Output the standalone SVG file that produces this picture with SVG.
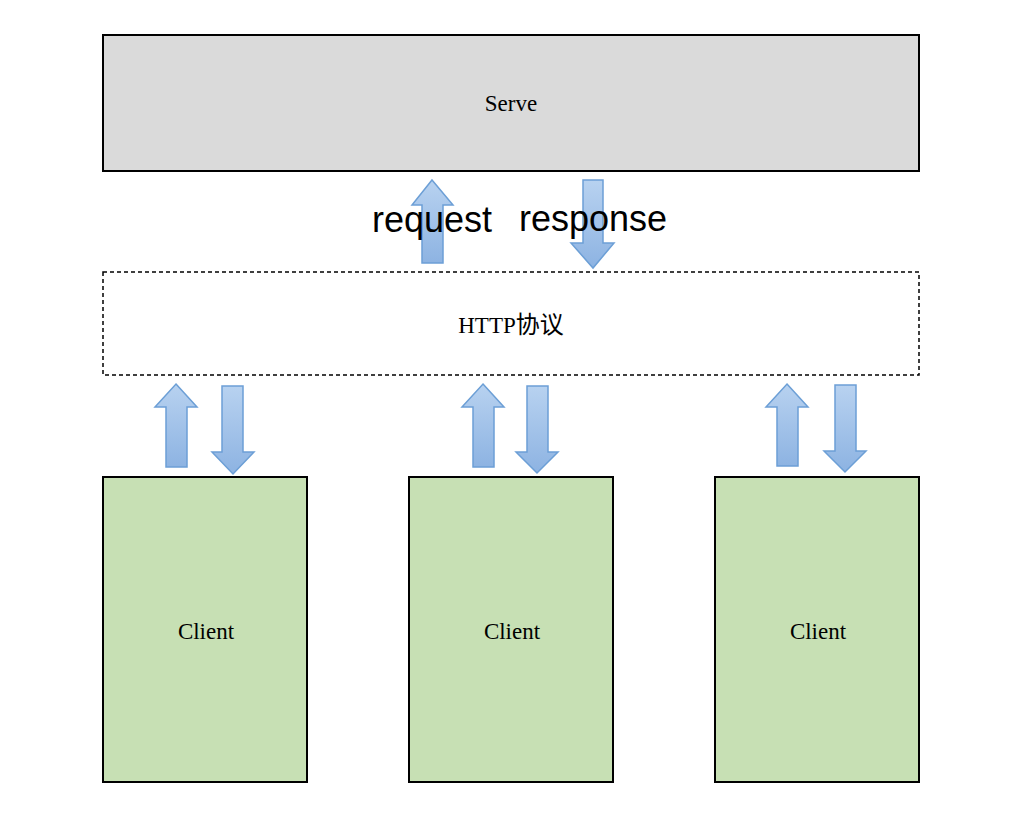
<svg xmlns="http://www.w3.org/2000/svg" width="1023" height="818" viewBox="0 0 1023 818">
<defs>
<linearGradient id="ag" x1="0" y1="0" x2="0" y2="1">
<stop offset="0" stop-color="#b8d2f0"/>
<stop offset="1" stop-color="#8db3e2"/>
</linearGradient>
<style>
.box{stroke:#000;stroke-width:2}
.arr{fill:url(#ag);stroke:#6c9fd6;stroke-width:1.5;stroke-linejoin:miter}
.lbl{font-family:"Liberation Serif","Noto Sans CJK SC",serif;font-size:23px;fill:#000;text-anchor:middle}
.big{font-family:"Liberation Sans",Arial,sans-serif;font-size:36px;fill:#000}
</style>
</defs>
<rect width="1023" height="818" fill="#fff"/>
<g id="server">
<rect class="box" x="103" y="35" width="816" height="136" fill="#dadada"/>
<text class="lbl" x="511" y="111">Serve</text>
</g>
<g id="http">
<rect x="103" y="272" width="816" height="103" fill="#fff" stroke="#000" stroke-width="1.5" stroke-dasharray="4 3"/>
<text class="lbl" x="511" y="333">HTTP<tspan style="font-size:24px">协议</tspan></text>
</g>
<g id="client1">
<rect class="box" x="103" y="477" width="204" height="305" fill="#c7e0b4"/>
<text class="lbl" x="206" y="639">Client</text>
</g>
<g id="client2">
<rect class="box" x="409" y="477" width="204" height="305" fill="#c7e0b4"/>
<text class="lbl" x="512" y="639">Client</text>
</g>
<g id="client3">
<rect class="box" x="715" y="477" width="204" height="305" fill="#c7e0b4"/>
<text class="lbl" x="818" y="639">Client</text>
</g>
<g id="connectors">
<path class="arr" d="M432,180 L453,205 L443,205 L443,263 L422,263 L422,205 L412,205 Z"/>
<path class="arr" d="M583,180 L603,180 L603,243 L614,243 L593,268 L571,243 L583,243 Z"/>
<path class="arr" d="M176,384 L197,407 L187,407 L187,467 L166,467 L166,407 L155,407 Z"/>
<path class="arr" d="M222,386 L243,386 L243,452 L254,452 L233,474 L212,452 L222,452 Z"/>
<path class="arr" d="M483,384 L504,407 L494,407 L494,467 L473,467 L473,407 L462,407 Z"/>
<path class="arr" d="M527,386 L548,386 L548,452 L558,452 L537,473 L516,452 L527,452 Z"/>
<path class="arr" d="M787,384 L808,407 L798,407 L798,466 L777,466 L777,407 L766,407 Z"/>
<path class="arr" d="M835,385 L856,385 L856,451 L866,451 L845,472 L824,451 L835,451 Z"/>
</g>
<text class="big" x="372" y="232">request</text>
<text class="big" x="519" y="231">response</text>
</svg>
